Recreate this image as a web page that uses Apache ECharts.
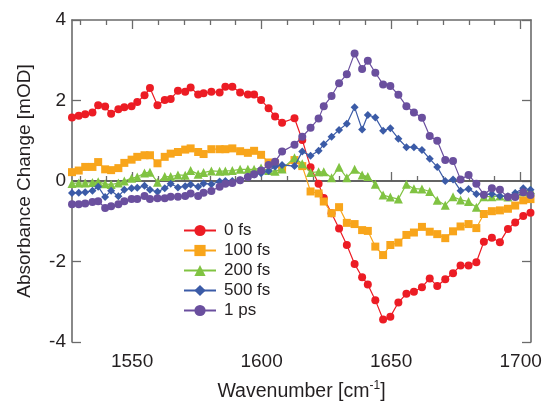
<!DOCTYPE html>
<html>
<head>
<meta charset="utf-8">
<script src="https://cdn.jsdelivr.net/npm/echarts@6/dist/echarts.min.js"></script>
<style>html,body{margin:0;padding:0;background:#fff;}#chart{width:544px;height:403px;}</style>
</head>
<body>
<div id="chart"></div>
<script>
const wavenumbers = [1526.8,1529.4,1531.9,1534.7,1536.9,1539.6,1541.9,1544.7,1547.0,1549.8,1552.0,1554.8,1556.9,1559.8,1562.6,1564.9,1567.7,1570.5,1572.6,1575.5,1577.6,1580.6,1583.8,1586.0,1588.7,1591.7,1594.7,1597.1,1599.8,1602.7,1605.2,1607.9,1612.7,1615.7,1618.9,1622.0,1624.0,1627.0,1629.9,1632.9,1635.9,1638.8,1641.0,1643.9,1646.9,1649.7,1652.8,1655.9,1658.8,1661.9,1664.9,1667.8,1670.9,1673.9,1676.8,1679.9,1682.9,1685.8,1688.9,1692.0,1695.1,1697.9,1701.0,1703.8];
const fs0 = [1.58,1.62,1.66,1.70,1.88,1.85,1.67,1.78,1.83,1.86,1.96,2.13,2.31,1.88,2.01,2.04,2.24,2.22,2.32,2.15,2.18,2.22,2.20,2.34,2.34,2.20,2.15,2.15,2.01,1.81,1.60,1.45,1.56,1.02,0.34,-0.07,-0.42,-0.80,-1.18,-1.59,-2.06,-2.39,-2.57,-2.96,-3.44,-3.37,-3.02,-2.80,-2.75,-2.64,-2.42,-2.61,-2.44,-2.29,-2.10,-2.10,-2.02,-1.51,-1.41,-1.52,-1.19,-1.03,-0.87,-0.79];
const fs100 = [0.22,0.26,0.35,0.35,0.47,0.29,0.27,0.32,0.45,0.53,0.60,0.64,0.64,0.44,0.60,0.68,0.72,0.78,0.81,0.72,0.67,0.79,0.79,0.79,0.81,0.74,0.70,0.75,0.65,0.46,0.44,0.30,0.52,0.37,-0.26,-0.31,-0.51,-0.80,-0.65,-1.04,-1.07,-1.22,-1.24,-1.63,-1.84,-1.59,-1.53,-1.34,-1.28,-1.14,-1.26,-1.32,-1.42,-1.25,-1.13,-1.07,-1.17,-0.82,-0.75,-0.73,-0.69,-0.61,-0.48,-0.45];
const fs200 = [-0.06,-0.05,-0.05,-0.04,-0.02,-0.07,-0.09,-0.05,0.00,0.07,0.10,0.20,0.22,-0.03,0.11,0.11,0.15,0.14,0.26,0.17,0.21,0.25,0.24,0.25,0.26,0.29,0.29,0.29,0.32,0.26,0.24,0.30,0.58,0.43,0.21,0.23,0.23,0.08,0.34,0.08,0.29,0.15,0.11,-0.08,-0.35,-0.40,-0.45,-0.08,-0.19,-0.20,-0.26,-0.48,-0.60,-0.39,-0.47,-0.51,-0.65,-0.39,-0.39,-0.37,-0.40,-0.31,-0.27,-0.22];
const fs500 = [-0.30,-0.29,-0.28,-0.24,-0.14,-0.40,-0.24,-0.38,-0.22,-0.18,-0.17,-0.12,-0.22,-0.27,-0.18,-0.07,-0.16,-0.13,-0.09,-0.14,-0.06,-0.08,-0.01,0.00,0.00,0.02,0.11,0.16,0.19,0.25,0.36,0.40,0.37,0.73,0.63,0.75,0.91,1.10,1.27,1.42,1.83,1.28,1.64,1.58,1.25,1.31,1.05,0.84,0.84,0.77,0.55,0.35,0.00,0.04,-0.24,-0.20,-0.32,-0.35,-0.32,-0.37,-0.38,-0.30,-0.18,-0.22];
const ps1 = [-0.58,-0.58,-0.56,-0.52,-0.50,-0.67,-0.63,-0.58,-0.50,-0.45,-0.45,-0.37,-0.45,-0.43,-0.43,-0.39,-0.39,-0.37,-0.31,-0.37,-0.29,-0.25,-0.14,-0.07,-0.05,0.02,0.10,0.17,0.26,0.40,0.48,0.73,0.90,1.10,1.32,1.55,1.86,2.11,2.43,2.65,3.17,2.78,2.99,2.69,2.40,2.36,2.14,1.86,1.70,1.57,1.12,1.00,0.52,0.50,0.04,0.15,-0.07,-0.34,-0.18,-0.22,-0.40,-0.40,-0.28,-0.35];
const seriesNames = ['0 fs','100 fs','200 fs','500 fs','1 ps'];
const majorTicks = [1550,1600,1650,1700];
const minorTicks = [1530,1540,1560,1570,1580,1590,1610,1620,1630,1640,1660,1670,1680,1690];
const yTicks = [-4,-2,0,2,4];

const colors = ['#ec1c24','#f8a51b','#80c342','#3b5ba7','#6a4f9e'];
const symbols = ['circle','rect','triangle','diamond','circle'];
const sizes = [8,8,9,8,8];
const allData = [fs0, fs100, fs200, fs500, ps1];

const FONT = '"Liberation Sans", Arial, Helvetica, sans-serif';
const axisColor = '#6b6b6b';
const textColor = '#231f20';
const xMin = 1526.8, xMax = 1704;

function xAx(pos, values, len, labels, extra) {
  return Object.assign({
    type: 'value', min: xMin, max: xMax, position: pos,
    axisLine: { show: true, lineStyle: { color: axisColor, width: 1.6 } },
    axisTick: { show: true, inside: true, length: len, customValues: values, lineStyle: { color: axisColor, width: 1.3 } },
    axisLabel: { show: labels, customValues: values, fontSize: 19, color: textColor, margin: 10, fontFamily: FONT,
      formatter: v => String(v) },
    splitLine: { show: false }
  }, extra || {});
}

const series = allData.map((vals, i) => ({
  name: seriesNames[i],
  type: 'line',
  xAxisIndex: 0, yAxisIndex: 0,
  data: wavenumbers.map((x, j) => [x, vals[j]]),
  symbol: symbols[i],
  symbolSize: sizes[i],
  showSymbol: true,
  lineStyle: { color: colors[i], width: 1.2 },
  itemStyle: { color: colors[i] },
  emphasis: { disabled: true },
  z: 3 + i
}));
series[0].markLine = {
  silent: true, symbol: ['none','none'], label: { show: false },
  lineStyle: { color: '#555', width: 1.6, type: 'solid' },
  data: [{ yAxis: 0 }],
  z: 1
};

const chart = echarts.init(document.getElementById('chart'), null, { renderer: 'canvas' });
chart.setOption({
  animation: false,
  backgroundColor: '#fff',
  textStyle: { fontFamily: FONT },
  grid: { left: 72, right: 13, top: 20, bottom: 61, containLabel: false, outerBoundsMode: 'none' },
  legend: {
    orient: 'vertical', left: 178, top: 217,
    itemWidth: 32, itemHeight: 14, itemGap: 3,
    textStyle: { fontSize: 17, color: textColor, fontFamily: FONT, padding: [0,0,0,3] },
    data: seriesNames
  },
  xAxis: [
    xAx('bottom', majorTicks, 9, true, {
      name: '{a|Wavenumber [cm}{s|-1}{a|]}',
      nameLocation: 'middle', nameGap: 38,
      nameTextStyle: { fontFamily: FONT, rich: {
        a: { fontSize: 19.5, color: textColor, fontFamily: FONT },
        s: { fontSize: 12, color: textColor, fontFamily: FONT, padding: [0,0,12,0] }
      } }
    }),
    xAx('bottom', minorTicks, 5, false, { axisLine: { show: false } }),
    xAx('top', majorTicks, 9, false),
    xAx('top', minorTicks, 5, false, { axisLine: { show: false } })
  ],
  yAxis: [
    {
      type: 'value', min: -4, max: 4, interval: 2, position: 'left',
      axisLine: { show: true, lineStyle: { color: axisColor, width: 1.6 } },
      axisTick: { show: true, inside: true, length: 9, lineStyle: { color: axisColor, width: 1.3 } },
      axisLabel: { fontSize: 19, color: textColor, margin: 6, fontFamily: FONT },
      splitLine: { show: false },
      name: 'Absorbance Change [mOD]', nameLocation: 'middle', nameGap: 38,
      nameTextStyle: { fontSize: 19, color: textColor, fontFamily: FONT }
    },
    {
      type: 'value', min: -4, max: 4, interval: 2, position: 'right',
      axisLine: { show: true, lineStyle: { color: axisColor, width: 1.6 } },
      axisTick: { show: true, inside: true, length: 9, lineStyle: { color: axisColor, width: 1.3 } },
      axisLabel: { show: false },
      splitLine: { show: false }
    }
  ],
  series: series
});
</script>
</body>
</html>
